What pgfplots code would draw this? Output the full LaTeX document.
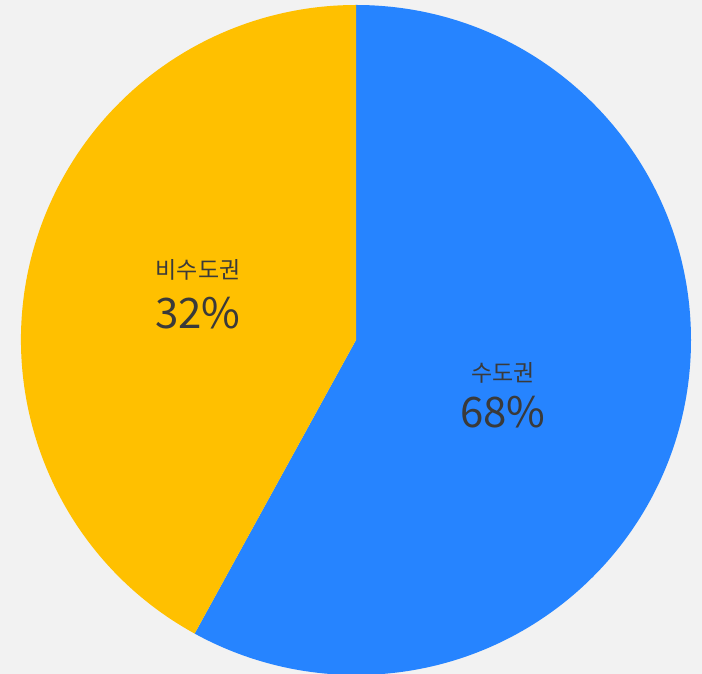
\documentclass[border=0pt]{standalone}
\usepackage{fontspec}
\usepackage{pgfplots}
\pgfplotsset{compat=1.18}
\newfontfamily\kr{Noto Sans CJK KR}
\definecolor{bg}{HTML}{F2F2F2}
\definecolor{pblue}{HTML}{2684FF}
\definecolor{pyellow}{HTML}{FFC000}
\definecolor{txt}{HTML}{3A3A3A}
% slice values as drawn (blue starts at 12 o'clock, clockwise)
\def\valA{58}  % 수도권
\def\valB{42}  % 비수도권
\begin{document}
\begin{tikzpicture}
\pgfmathsetmacro\angA{90-360*(\valA/(\valA+\valB))}
\begin{axis}[
  x=1pt, y=1pt, xmin=0, xmax=702, ymin=0, ymax=674,
  scale only axis, hide axis, clip=true,
]
\fill[bg] (axis cs:0,0) rectangle (axis cs:702,674);
\fill[pblue] (axis cs:356,334) -- +(90:335pt) arc[start angle=90, end angle=\angA, radius=335pt] -- cycle;
\fill[pyellow] (axis cs:356,334) -- +(\angA:335pt) arc[start angle=\angA, end angle=-270, radius=335pt] -- cycle;
\node[txt, font=\kr\fontsize{23}{26}\selectfont, anchor=center] at (axis cs:198,404) {비수도권};
\node[txt, font=\kr\fontsize{42}{46}\selectfont, anchor=center] at (axis cs:198,361) {32\%};
\node[txt, font=\kr\fontsize{23}{26}\selectfont, anchor=center] at (axis cs:503,301) {수도권};
\node[txt, font=\kr\fontsize{42}{46}\selectfont, anchor=center] at (axis cs:503,262) {68\%};
\end{axis}
\end{tikzpicture}
\end{document}
